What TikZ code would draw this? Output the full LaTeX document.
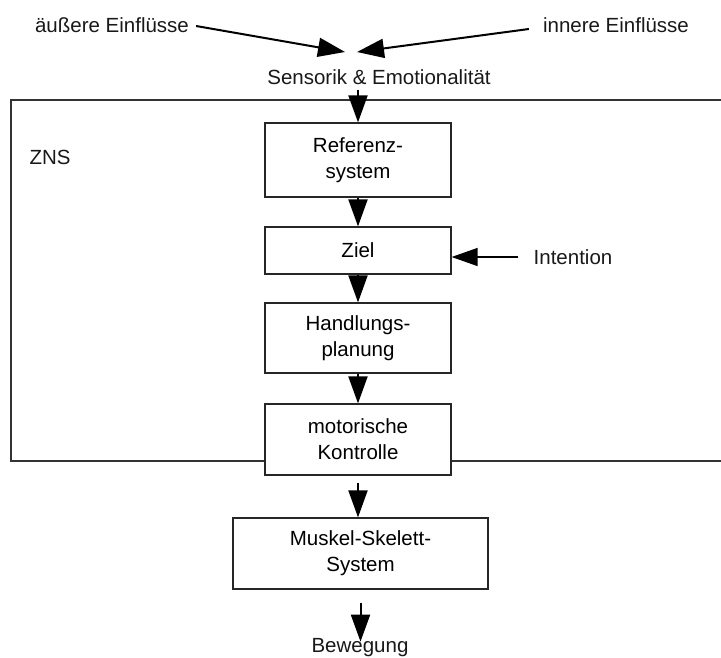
\documentclass[tikz,border=0pt]{standalone}
\usepackage{fontspec}
\setmainfont{Liberation Sans}
\usetikzlibrary{arrows.meta}

\begin{document}
\begin{tikzpicture}[x=1pt,y=-1pt,
    font=\fontsize{20.5}{26}\selectfont,
    box/.style={draw=black!85,line width=1.2pt,fill=white,align=center,minimum width=186pt},
    lbl/.style={inner sep=0pt,text=black!90},
    pfeil/.style={line width=2pt,-{Triangle[length=27pt,width=19pt]}}]
    \useasboundingbox (0,0) rectangle (721,657);
    % ZNS frame, open to the right
    \draw[line width=1.2pt,black!80] (721,100)--(11,100)--(11,461)--(721,461);
    \node[lbl] (zns) at (50,157) {ZNS};
    % inputs
    \node[lbl] (aus) at (112,25) {äußere Einflüsse};
    \node[lbl] (inn) at (616,25) {innere Einflüsse};
    \node[lbl] (sens) at (379,77) {Sensorik \& Emotionalität};
    \coordinate (ain) at (345,52);
    \coordinate (iin) at (357,52);
    \draw[pfeil] ([xshift=7pt,yshift=-1pt]aus.east)--(ain);
    \draw[pfeil] ([xshift=-14pt,yshift=-4pt]inn.west)--(iin);
    % chain
    \node[box,minimum height=74pt] (ref) at (358,160) {Referenz-\\system};
    \node[box,minimum height=47pt] (ziel) at (358,250.5) {Ziel};
    \node[box,minimum height=70pt] (hand) at (358,338) {Handlungs-\\planung};
    \node[box,minimum height=71pt] (mot) at (358,439.5) {motorische\\Kontrolle};
    \node[box,minimum width=255pt,minimum height=71pt] (msk) at (360.5,553.5) {Muskel-Skelett-\\System};
    \node[lbl] (bew) at (360,648) {Bewegung};
    \node[lbl] (int) at (573,257) {Intention};
    \draw[pfeil] ([yshift=-5pt]ref.north |- sens.south)--(ref.north);
    \draw[pfeil] (ref)--(ziel);
    \draw[pfeil] (ziel)--(hand);
    \draw[pfeil] (hand)--(mot);
    \draw[pfeil,shorten <=7pt] (mot.south)--(mot.south |- msk.north);
    \draw[pfeil,shorten <=13pt] (msk.south)--([yshift=-3pt]msk.south |- bew.north);
    \draw[line width=1.3pt,-{Triangle[length=26pt,width=18pt]}] ([xshift=-15pt]int.west)--(int.west -| ziel.east);
\end{tikzpicture}
\end{document}
